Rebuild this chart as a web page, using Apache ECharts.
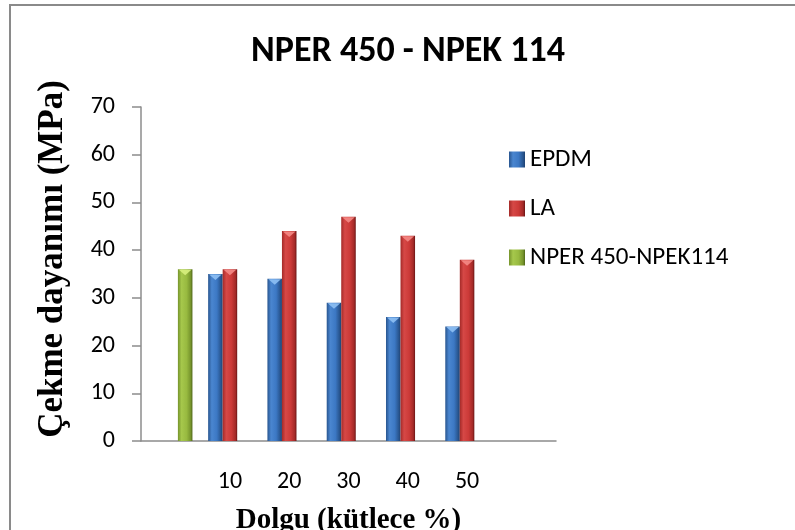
<!DOCTYPE html>
<html>
<head>
<meta charset="utf-8">
<script src="https://cdn.jsdelivr.net/npm/echarts@6/dist/echarts.min.js"></script>
<style>
  html, body { margin: 0; padding: 0; background: #fff; }
  #chart { width: 795px; height: 530px; }
</style>
</head>
<body>
<div id="chart"></div>
<script>
// Filler content (mass %) on the x axis; first and last slots are unlabelled
const categories = ['', '10', '20', '30', '40', '50', ''];
// Tensile strength (MPa) per filler content
const epdm = [null, 35, 34, 29, 26, 24, null];
const la = [null, 36, 44, 47, 43, 38, null];
const reference = [36, null, null, null, null, null, null];
const seriesNames = ['EPDM', 'LA', 'NPER 450-NPEK114'];

const SANS = 'Carlito, Lato, "Open Sans", sans-serif';
const SERIF = '"Liberation Serif", "DejaVu Serif", serif';

const palettes = [
  { edge: '#28558f', mid: '#3c78c4', light: '#4a86d0', dark: '#1f4272', cap: '#8ec0f4' },
  { edge: '#a42a28', mid: '#cc3a38', light: '#d64846', dark: '#6a1414', cap: '#f48a86' },
  { edge: '#76942c', mid: '#98ba40', light: '#a6c84c', dark: '#4f6618', cap: '#d8f07e' }
];

function barGradient(p) {
  return new echarts.graphic.LinearGradient(0, 0, 1, 0, [
    { offset: 0, color: p.edge },
    { offset: 0.25, color: p.light },
    { offset: 0.6, color: p.mid },
    { offset: 0.88, color: p.edge },
    { offset: 1, color: p.dark }
  ]);
}

// Clustered bars: each series takes one slot of three inside its category band
function makeRenderer(slot, p) {
  return function (params, api) {
    const v = api.value(1);
    if (v == null || isNaN(v)) return null;
    const idx = api.value(0);
    const base = api.coord([idx, 0]);
    const top = api.coord([idx, v]);
    const band = api.size([1, 0])[0];
    const w = band * 0.245;
    const x = base[0] + (slot - 1) * w - w / 2;
    const h = base[1] - top[1];
    const capH = Math.min(6, h);
    return {
      type: 'group',
      children: [
        {
          type: 'rect',
          shape: { x: x, y: top[1], width: w, height: h },
          style: { fill: barGradient(p) }
        },
        {
          type: 'polygon',
          shape: { points: [[x + 1, top[1] + 0.5], [x + w - 1, top[1] + 0.5], [x + w / 2, top[1] + capH]] },
          style: { fill: p.cap, opacity: 0.9 }
        }
      ]
    };
  };
}

const seriesData = [epdm, la, reference];

const chart = echarts.init(document.getElementById('chart'), null, { renderer: 'canvas' });
chart.setOption({
  animation: false,
  backgroundColor: '#ffffff',
  grid: { left: 141, right: 239, top: 107, bottom: 89, containLabel: false, outerBoundsMode: 'none' },
  graphic: [
    {
      type: 'rect',
      shape: { x: 10, y: 5, width: 820, height: 600 },
      style: { fill: 'none', stroke: '#8a8a8a', lineWidth: 2 },
      silent: true
    },
    {
      type: 'text',
      x: 408, y: 52,
      style: {
        text: 'NPER 450 - NPEK 114',
        font: 'bold 36px ' + SANS,
        fill: '#000',
        align: 'center',
        verticalAlign: 'middle'
      }
    },
    {
      type: 'text',
      x: 53, y: 259,
      rotation: Math.PI / 2,
      style: {
        text: 'Çekme dayanımı (MPa)',
        font: 'bold 35px ' + SERIF,
        fill: '#000',
        align: 'center',
        verticalAlign: 'middle'
      }
    }
  ],
  legend: {
    orient: 'vertical',
    left: 504,
    top: 142,
    itemWidth: 16,
    itemHeight: 16,
    itemGap: 24,
    icon: 'rect',
    textStyle: { fontFamily: SANS, fontSize: 25, color: '#000', lineHeight: 25 },
    data: seriesNames.map(function (n, i) {
      return { name: n, itemStyle: { color: barGradient(palettes[i]) } };
    })
  },
  xAxis: {
    type: 'category',
    data: categories,
    boundaryGap: true,
    axisLine: { lineStyle: { color: '#8c8c8c', width: 1.5 } },
    axisTick: { show: false },
    axisLabel: { fontFamily: SANS, fontSize: 24, color: '#000', margin: 29 },
    name: 'Dolgu (kütlece %)',
    nameLocation: 'middle',
    nameGap: 65,
    nameTextStyle: { fontFamily: SERIF, fontWeight: 'bold', fontSize: 29, color: '#000' }
  },
  yAxis: {
    type: 'value',
    min: 0,
    max: 70,
    interval: 10,
    splitLine: { show: false },
    axisLine: { show: true, lineStyle: { color: '#8c8c8c', width: 1.5 } },
    axisTick: { show: true, inside: false, length: 9, lineStyle: { color: '#8c8c8c', width: 1.5 } },
    axisLabel: { fontFamily: SANS, fontSize: 24, color: '#000', margin: 26 }
  },
  series: seriesData.map(function (arr, i) {
    return {
      type: 'custom',
      name: seriesNames[i],
      renderItem: makeRenderer(i, palettes[i]),
      itemStyle: { color: barGradient(palettes[i]) },
      encode: { x: 0, y: 1 },
      data: arr.map(function (v, j) { return [j, v]; })
    };
  })
});
</script>
</body>
</html>
